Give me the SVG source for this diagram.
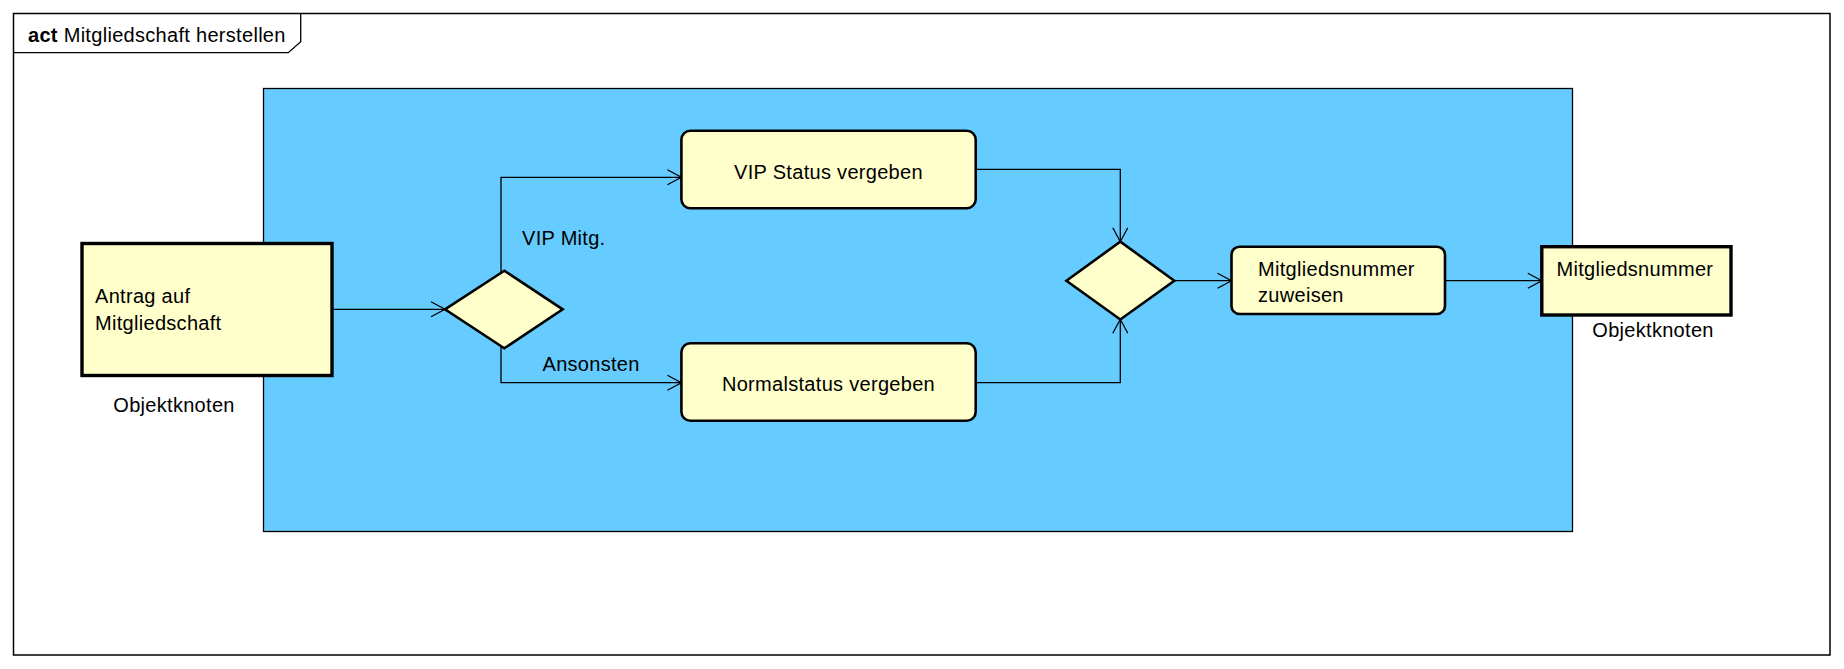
<svg xmlns="http://www.w3.org/2000/svg" width="1844" height="669" viewBox="0 0 1844 669">
<style>
text{font-family:"Liberation Sans",Arial,sans-serif;font-size:20px;letter-spacing:0.3px;fill:#000}
.act{fill:#FFFFCC;stroke:#000;stroke-width:2.6}
.obj{fill:#FFFFCC;stroke:#000;stroke-width:3.4}
.dec{fill:#FFFFCC;stroke:#000;stroke-width:2.6;stroke-linejoin:miter}
.edge{fill:none;stroke:#000;stroke-width:1.3}
</style>
<defs>
<marker id="arr" markerUnits="userSpaceOnUse" markerWidth="18" markerHeight="20" refX="15" refY="9" orient="auto">
<path d="M1,1.5 L15,9 L1,16.5" fill="none" stroke="#000" stroke-width="1.3"/>
</marker>
</defs>
<rect width="1844" height="669" fill="#fff"/>
<g id="frame">
<rect x="13.5" y="13.5" width="1816.5" height="641.5" fill="#fff" stroke="#000" stroke-width="1.5"/>
<path d="M13.5,52.7 H288.3 L300.7,41.7 V13.5" fill="none" stroke="#000" stroke-width="1.3"/>
<text x="28" y="42.3"><tspan font-weight="bold">act</tspan> Mitgliedschaft herstellen</text>
</g>
<g id="partition">
<rect x="263.5" y="88.5" width="1309" height="443" fill="#66CCFF" stroke="#000" stroke-width="1.3"/>
</g>
<g id="connectors">
<path class="edge" d="M333,309.3 H445" marker-end="url(#arr)"/>
<path class="edge" d="M501,272 V177.3 H681.4" marker-end="url(#arr)"/>
<path class="edge" d="M501,347 V382.7 H681.4" marker-end="url(#arr)"/>
<path class="edge" d="M975.7,169.3 H1120.3 V241.7" marker-end="url(#arr)"/>
<path class="edge" d="M975.7,382.7 H1120.3 V319.3" marker-end="url(#arr)"/>
<path class="edge" d="M1174.5,280.7 H1231.5" marker-end="url(#arr)"/>
<path class="edge" d="M1445,280.7 H1541.8" marker-end="url(#arr)"/>
<text x="522" y="245">VIP Mitg.</text>
<text x="542.5" y="370.7">Ansonsten</text>
</g>
<g id="antrag">
<rect class="obj" x="82" y="243.5" width="250" height="132"/>
<text x="95" y="303.3">Antrag auf</text>
<text x="95" y="330">Mitgliedschaft</text>
<text x="113.3" y="411.7">Objektknoten</text>
</g>
<g id="decision1">
<polygon class="dec" points="445,309.3 504.3,270.7 562.7,309.3 504.3,348.3"/>
</g>
<g id="vip">
<rect class="act" x="681.4" y="130.7" width="294.3" height="77.6" rx="9" ry="9"/>
<text x="828.5" y="179" text-anchor="middle">VIP Status vergeben</text>
</g>
<g id="normal">
<rect class="act" x="681.4" y="343.3" width="294.3" height="77.4" rx="9" ry="9"/>
<text x="828.5" y="390.7" text-anchor="middle">Normalstatus vergeben</text>
</g>
<g id="merge">
<polygon class="dec" points="1066.4,280.7 1120.3,241.7 1174.3,280.7 1120.3,319.5"/>
</g>
<g id="zuweisen">
<rect class="act" x="1231.5" y="246.7" width="213.5" height="67.3" rx="8" ry="8"/>
<text x="1258" y="276">Mitgliedsnummer</text>
<text x="1258" y="301.7">zuweisen</text>
</g>
<g id="nummer">
<rect class="obj" x="1541.8" y="246.7" width="189.2" height="68.3"/>
<text x="1556.5" y="276">Mitgliedsnummer</text>
<text x="1592.3" y="337.3">Objektknoten</text>
</g>
</svg>
